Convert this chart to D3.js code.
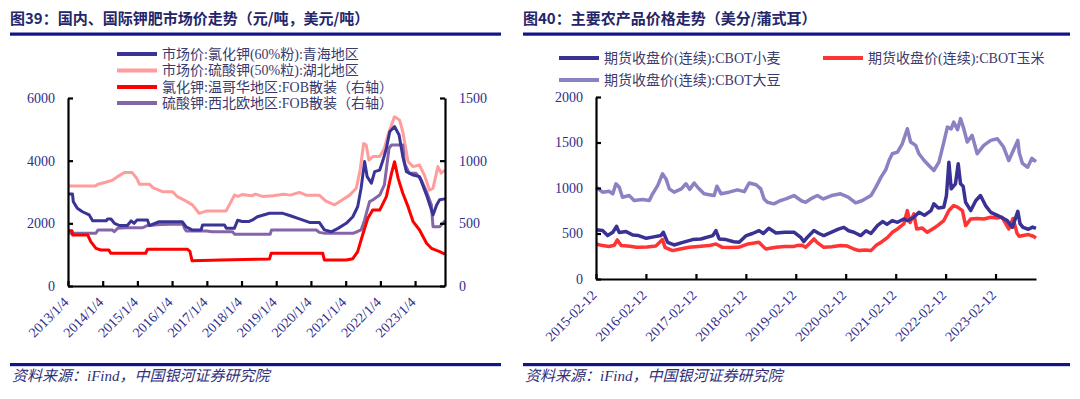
<!DOCTYPE html>
<html>
<head>
<meta charset="utf-8">
<script src="https://cdn.jsdelivr.net/npm/d3@7/dist/d3.min.js"></script>
<style>
  body { margin: 0; background: #fff; }
  svg text { font-family: "Liberation Serif", "Noto Sans CJK SC", serif; }
</style>
</head>
<body>
<svg id="chart" width="1080" height="399"></svg>
<script>
// ---- figure 39: potash prices ----
const leftTitle = "图39：国内、国际钾肥市场价走势（元/吨，美元/吨）";
const leftTickDates = ["2013-01-04", "2014-01-04", "2015-01-04", "2016-01-04", "2017-01-04", "2018-01-04",
  "2019-01-04", "2020-01-04", "2021-01-04", "2022-01-04", "2023-01-04"];
const leftTickLabels = ["2013/1/4", "2014/1/4", "2015/1/4", "2016/1/4", "2017/1/4", "2018/1/4",
  "2019/1/4", "2020/1/4", "2021/1/4", "2022/1/4", "2023/1/4"];
const leftYTicks = [0, 2000, 4000, 6000];
const rightYTicks = [0, 500, 1000, 1500];
const leftNames = ["市场价:氯化钾(60%粉):青海地区", "市场价:硫酸钾(50%粒):湖北地区",
  "氯化钾:温哥华地区:FOB散装（右轴）", "硫酸钾:西北欧地区:FOB散装（右轴）"];

// 元/吨, left axis
const kclQinghai = [
  ["2013-01-04", 2940], ["2013-02-20", 2940], ["2013-03-01", 2690], ["2013-04-12", 2480], ["2013-06-05", 2370],
  ["2013-08-15", 2270], ["2013-09-20", 2080], ["2014-02-10", 2080], ["2014-02-25", 2140], ["2014-04-01", 2140],
  ["2014-05-08", 2000], ["2014-07-01", 1930], ["2014-09-20", 1930], ["2014-10-30", 2080], ["2014-12-01", 2000],
  ["2015-01-01", 2110], ["2015-04-20", 2110], ["2015-05-10", 1930], ["2015-08-20", 2050], ["2016-04-20", 2050],
  ["2016-05-30", 1890], ["2016-08-01", 1790], ["2016-11-05", 1790], ["2016-11-20", 1950], ["2017-07-08", 1950],
  ["2017-07-28", 1840], ["2017-10-20", 1840], ["2017-11-25", 2100], ["2018-01-10", 2060], ["2018-03-25", 2060],
  ["2018-04-30", 2110], ["2018-06-20", 2210], ["2018-10-25", 2320], ["2019-03-15", 2320], ["2019-05-25", 2250],
  ["2019-09-05", 2140], ["2019-12-20", 2030], ["2020-04-01", 2030], ["2020-05-25", 1790], ["2020-08-05", 1730],
  ["2020-10-15", 1840], ["2021-01-10", 2000], ["2021-03-20", 2210], ["2021-05-10", 2530], ["2021-06-15", 3120],
  ["2021-07-22", 3970], ["2021-08-18", 3490], ["2021-10-01", 3280], ["2021-11-05", 3650], ["2021-12-28", 3700],
  ["2022-02-01", 4020], ["2022-03-08", 4390], ["2022-04-12", 4920], ["2022-06-02", 5090], ["2022-07-20", 4820],
  ["2022-08-28", 4130], ["2022-10-05", 3650], ["2022-12-15", 3540], ["2023-02-20", 3490], ["2023-05-05", 2900],
  ["2023-07-12", 2270], ["2023-08-20", 2590], ["2023-09-20", 2750], ["2023-11-15", 2780]
];
const sopHubei = [
  ["2013-01-04", 3190], ["2013-10-20", 3190], ["2013-11-15", 3250], ["2014-02-05", 3310], ["2014-04-20", 3380],
  ["2014-06-10", 3490], ["2014-08-20", 3620], ["2014-11-10", 3620], ["2014-12-28", 3440], ["2015-01-25", 3250],
  ["2015-05-10", 3250], ["2015-06-15", 3140], ["2015-09-25", 3010], ["2016-01-10", 3010], ["2016-03-01", 2850],
  ["2016-05-30", 2710], ["2016-08-05", 2590], ["2016-10-15", 2320], ["2016-12-28", 2390], ["2017-07-25", 2390],
  ["2017-10-22", 2900], ["2017-12-01", 2860], ["2018-01-10", 2920], ["2018-04-20", 2880], ["2018-06-01", 2930],
  ["2018-08-10", 2860], ["2018-12-01", 2880], ["2019-03-20", 2930], ["2019-06-01", 2900], ["2019-09-05", 2990],
  ["2019-11-15", 2900], ["2020-04-01", 2900], ["2020-06-10", 2710], ["2020-09-10", 2590], ["2020-10-30", 2690],
  ["2021-02-15", 2900], ["2021-04-25", 3120], ["2021-06-05", 3700], ["2021-07-12", 4550], ["2021-08-08", 4500],
  ["2021-09-05", 4020], ["2021-10-15", 4130], ["2021-12-28", 4130], ["2022-02-15", 4390], ["2022-03-25", 4820],
  ["2022-06-01", 5400], ["2022-07-25", 5300], ["2022-08-28", 4920], ["2022-10-22", 3970], ["2022-12-15", 3810],
  ["2023-02-20", 3860], ["2023-04-12", 3540], ["2023-06-05", 3060], ["2023-07-12", 3120], ["2023-09-01", 3810],
  ["2023-10-05", 3600], ["2023-11-15", 3700]
];
// 美元/吨, right axis
const kclVancouver = [
  ["2013-01-04", 440], ["2013-02-15", 440], ["2013-02-22", 407], ["2013-07-30", 407], ["2013-09-01", 354],
  ["2013-10-25", 300], ["2013-12-15", 287], ["2014-03-10", 287], ["2014-03-30", 261], ["2015-04-01", 261],
  ["2015-04-20", 293], ["2016-06-15", 293], ["2016-07-10", 277], ["2016-08-01", 202], ["2017-06-01", 208],
  ["2018-10-25", 215], ["2018-11-12", 261], ["2020-05-08", 261], ["2020-05-25", 207], ["2021-01-10", 207],
  ["2021-03-20", 218], ["2021-05-10", 274], ["2021-07-01", 407], ["2021-08-25", 540], ["2021-10-15", 606],
  ["2021-12-28", 606], ["2022-03-08", 713], ["2022-05-01", 899], ["2022-06-02", 992], ["2022-07-10", 859],
  ["2022-08-28", 740], ["2022-10-22", 633], ["2022-12-15", 513], ["2023-02-20", 447], ["2023-05-05", 341],
  ["2023-06-25", 301], ["2023-09-20", 274], ["2023-11-15", 255]
];
const sopNwEurope = [
  ["2013-01-04", 420], ["2013-10-25", 420], ["2013-11-15", 447], ["2014-04-15", 447], ["2014-05-05", 433],
  ["2014-06-10", 460], ["2014-09-01", 465], ["2015-03-01", 465], ["2015-04-10", 480], ["2015-09-01", 490],
  ["2016-04-25", 495], ["2016-05-15", 460], ["2016-06-01", 439], ["2017-01-01", 439], ["2017-03-01", 433],
  ["2017-10-01", 433], ["2017-10-25", 412], ["2018-11-01", 412], ["2018-11-15", 447], ["2020-03-01", 447],
  ["2020-04-01", 428], ["2020-06-01", 420], ["2021-03-20", 420], ["2021-05-10", 435], ["2021-06-15", 447],
  ["2021-07-22", 527], ["2021-09-12", 673], ["2021-10-15", 686], ["2021-12-28", 726], ["2022-02-15", 806],
  ["2022-04-05", 1099], ["2022-05-01", 1125], ["2022-08-28", 1125], ["2022-09-15", 979], ["2022-11-05", 899],
  ["2023-01-15", 899], ["2023-03-10", 846], ["2023-05-05", 752], ["2023-06-25", 646], ["2023-07-12", 473],
  ["2023-09-20", 473], ["2023-11-15", 520]
];

// ---- figure 40: CBOT futures, 美分/蒲式耳 ----
const rightTitle = "图40：主要农产品价格走势（美分/蒲式耳）";
const cbotTickDates = ["2015-02-12", "2016-02-12", "2017-02-12", "2018-02-12", "2019-02-12",
  "2020-02-12", "2021-02-12", "2022-02-12", "2023-02-12"];
const cbotYTicks = [0, 500, 1000, 1500, 2000];
const cbotNames = ["期货收盘价(连续):CBOT小麦", "期货收盘价(连续):CBOT玉米", "期货收盘价(连续):CBOT大豆"];

const cbotWheat = [
  ["2015-02-12", 540], ["2015-04-01", 532], ["2015-05-08", 477], ["2015-06-15", 514], ["2015-07-12", 579],
  ["2015-08-01", 510], ["2015-09-20", 521], ["2015-11-08", 484], ["2015-12-20", 477], ["2016-02-15", 447],
  ["2016-03-30", 460], ["2016-06-01", 477], ["2016-06-18", 514], ["2016-07-20", 403], ["2016-09-05", 374],
  ["2016-11-08", 403], ["2017-01-18", 433], ["2017-03-20", 440], ["2017-06-15", 477], ["2017-07-08", 532],
  ["2017-08-01", 440], ["2017-09-20", 433], ["2017-11-15", 410], ["2017-12-25", 403], ["2018-02-15", 477],
  ["2018-04-01", 500], ["2018-05-20", 532], ["2018-06-20", 500], ["2018-07-30", 557], ["2018-09-20", 506],
  ["2018-11-25", 514], ["2019-01-30", 514], ["2019-03-20", 458], ["2019-04-12", 410], ["2019-05-08", 460],
  ["2019-06-25", 532], ["2019-08-01", 500], ["2019-09-05", 477], ["2019-11-01", 514], ["2019-12-25", 550],
  ["2020-01-30", 568], ["2020-03-05", 530], ["2020-04-12", 514], ["2020-06-01", 477], ["2020-07-10", 530],
  ["2020-08-15", 500], ["2020-10-01", 587], ["2020-11-08", 631], ["2020-12-10", 600], ["2021-01-18", 642],
  ["2021-02-25", 623], ["2021-04-12", 660], ["2021-05-10", 640], ["2021-06-25", 678], ["2021-08-01", 733],
  ["2021-09-10", 700], ["2021-10-28", 752], ["2021-11-18", 826], ["2021-12-20", 780], ["2022-01-30", 789],
  ["2022-02-18", 917], ["2022-03-08", 1284], ["2022-03-25", 991], ["2022-04-25", 1046], ["2022-05-15", 1266],
  ["2022-06-01", 1046], ["2022-06-20", 1020], ["2022-07-08", 843], ["2022-08-15", 752], ["2022-09-20", 860],
  ["2022-10-25", 917], ["2022-12-01", 807], ["2023-01-08", 733], ["2023-02-25", 700], ["2023-03-25", 678],
  ["2023-05-08", 642], ["2023-06-15", 567], ["2023-07-25", 744], ["2023-08-10", 609], ["2023-09-01", 567],
  ["2023-10-10", 547], ["2023-11-10", 570], ["2023-12-05", 555]
];
const cbotCorn = [
  ["2015-02-12", 385], ["2015-04-01", 367], ["2015-05-18", 358], ["2015-06-25", 370], ["2015-07-18", 429],
  ["2015-08-15", 367], ["2015-10-20", 360], ["2015-12-05", 348], ["2016-02-20", 352], ["2016-04-25", 362],
  ["2016-06-12", 433], ["2016-07-01", 348], ["2016-08-25", 312], ["2016-10-20", 330], ["2016-12-25", 348],
  ["2017-03-01", 358], ["2017-05-18", 367], ["2017-07-08", 385], ["2017-08-25", 348], ["2017-10-20", 345],
  ["2017-12-20", 348], ["2018-03-01", 385], ["2018-05-18", 403], ["2018-07-08", 330], ["2018-09-20", 348],
  ["2018-11-25", 358], ["2019-01-30", 358], ["2019-02-20", 367], ["2019-03-30", 370], ["2019-04-25", 348],
  ["2019-05-20", 385], ["2019-06-25", 440], ["2019-07-20", 400], ["2019-09-05", 348], ["2019-11-01", 355],
  ["2020-01-05", 367], ["2020-02-25", 362], ["2020-04-12", 330], ["2020-05-20", 312], ["2020-07-01", 318],
  ["2020-08-15", 312], ["2020-09-20", 367], ["2020-10-25", 400], ["2020-12-15", 458], ["2021-01-18", 513],
  ["2021-02-25", 550], ["2021-04-12", 605], ["2021-05-08", 752], ["2021-05-28", 620], ["2021-06-25", 715],
  ["2021-07-15", 550], ["2021-08-25", 560], ["2021-10-01", 513], ["2021-11-20", 560], ["2021-12-15", 587],
  ["2022-01-30", 642], ["2022-03-08", 752], ["2022-04-12", 807], ["2022-05-10", 790], ["2022-06-15", 752],
  ["2022-07-08", 587], ["2022-08-15", 660], ["2022-10-01", 665], ["2022-11-18", 660], ["2023-01-08", 678],
  ["2023-02-20", 670], ["2023-04-01", 678], ["2023-05-20", 550], ["2023-06-20", 665], ["2023-07-20", 500],
  ["2023-08-05", 469], ["2023-10-10", 488], ["2023-11-15", 470], ["2023-12-05", 450]
];
const cbotSoybean = [
  ["2015-02-12", 1009], ["2015-04-01", 954], ["2015-05-18", 965], ["2015-06-15", 936], ["2015-07-08", 1046],
  ["2015-08-01", 1009], ["2015-08-25", 898], ["2015-10-12", 917], ["2015-11-18", 862], ["2016-01-18", 873],
  ["2016-03-08", 862], ["2016-04-01", 936], ["2016-05-08", 1027], ["2016-06-12", 1156], ["2016-07-08", 1100],
  ["2016-08-01", 991], ["2016-09-05", 954], ["2016-10-28", 991], ["2016-12-01", 1046], ["2016-12-28", 985],
  ["2017-01-30", 1055], ["2017-03-01", 1000], ["2017-04-12", 936], ["2017-05-20", 926], ["2017-06-25", 917],
  ["2017-07-15", 1020], ["2017-08-15", 936], ["2017-10-12", 954], ["2017-12-12", 980], ["2018-02-01", 960],
  ["2018-03-08", 1055], ["2018-04-28", 1036], ["2018-06-01", 991], ["2018-06-25", 880], ["2018-07-20", 843],
  ["2018-09-05", 826], ["2018-10-20", 860], ["2018-12-01", 880], ["2019-01-30", 917], ["2019-03-25", 860],
  ["2019-04-25", 843], ["2019-06-01", 880], ["2019-07-20", 917], ["2019-09-01", 880], ["2019-11-01", 917],
  ["2020-01-05", 936], ["2020-03-01", 900], ["2020-04-25", 836], ["2020-06-10", 860], ["2020-08-15", 917],
  ["2020-09-20", 1009], ["2020-10-28", 1119], ["2020-12-01", 1200], ["2020-12-25", 1302], ["2021-01-18", 1376],
  ["2021-02-25", 1394], ["2021-04-01", 1486], ["2021-05-08", 1651], ["2021-06-01", 1505], ["2021-07-08", 1468],
  ["2021-08-01", 1376], ["2021-09-08", 1302], ["2021-10-25", 1229], ["2021-11-18", 1192], ["2021-12-25", 1284],
  ["2022-01-30", 1504], ["2022-02-25", 1669], ["2022-03-25", 1650], ["2022-04-12", 1724], ["2022-05-10", 1640],
  ["2022-06-01", 1762], ["2022-06-25", 1651], ["2022-07-20", 1505], ["2022-08-25", 1578], ["2022-10-01", 1376],
  ["2022-11-18", 1468], ["2023-01-08", 1523], ["2023-02-25", 1541], ["2023-04-12", 1450], ["2023-05-20", 1302],
  ["2023-06-25", 1423], ["2023-07-25", 1523], ["2023-08-05", 1385], ["2023-08-28", 1270], ["2023-10-05", 1228],
  ["2023-11-05", 1326], ["2023-12-05", 1290]
];

const sourceText = "资料来源：iFind，中国银河证券研究院";

const parse = d3.timeParse("%Y-%m-%d");
const svg = d3.select("#chart");
svg.append("rect").attr("width", 1080).attr("height", 399).attr("fill", "#fff");

const navy = "#14148a";
const labelColor = "#2e2e8c";

function frame(x0, x1, title) {
  svg.append("text").attr("x", x0).attr("y", 24)
    .style("font-family", '"Noto Sans CJK SC", sans-serif')
    .style("font-weight", "bold").style("font-size", "15px")
    .attr("fill", "#25256a").text(title);
  svg.append("rect").attr("x", x0).attr("y", 32.5).attr("width", x1 - x0).attr("height", 3.2).attr("fill", navy);
  svg.append("rect").attr("x", x0).attr("y", 363).attr("width", x1 - x0).attr("height", 3.2).attr("fill", navy);
  svg.append("text").attr("x", x0 + 2).attr("y", 381)
    .style("font-style", "italic").style("font-size", "15px")
    .attr("fill", "#30307a").text(sourceText);
}

function styleAxis(g) {
  g.select(".domain").attr("stroke", "#000").attr("stroke-width", 2.2);
  g.selectAll(".tick line").attr("stroke", "#000").attr("stroke-width", 2.2);
  g.selectAll(".tick text").attr("fill", labelColor).style("font-size", "14px")
    .style("font-family", '"Liberation Serif", serif');
}

function rotateLabels(g) {
  g.selectAll(".tick text")
    .attr("x", 0).attr("y", 0).attr("dy", "0.2em")
    .attr("transform", "translate(-1,15) rotate(-45)")
    .style("text-anchor", "end");
}

function legendItem(x, y, color, label) {
  svg.append("line").attr("x1", x).attr("x2", x + 40).attr("y1", y).attr("y2", y)
    .attr("stroke", color).attr("stroke-width", 4);
  svg.append("text").attr("x", x + 45).attr("y", y).attr("dy", "0.35em")
    .style("font-size", "14px").attr("fill", "#3a3a6e").text(label);
}

function drawSeries(data, x, y, color, width) {
  svg.append("path").datum(data)
    .attr("fill", "none").attr("stroke", color).attr("stroke-width", width)
    .attr("stroke-linejoin", "round")
    .attr("d", d3.line().x(d => x(parse(d[0]))).y(d => y(d[1])));
}

// ---------- left panel ----------
frame(10, 501, leftTitle);
{
  const x = d3.scaleTime().domain([parse("2013-01-04"), parse("2023-11-15")]).range([68, 445]);
  const y = d3.scaleLinear().domain([0, 6000]).range([286, 98]);
  const y2 = d3.scaleLinear().domain([0, 1500]).range([286, 98]);

  drawSeries(sopHubei, x, y, "#ff9c9c", 3);
  drawSeries(sopNwEurope, x, y2, "#8466a8", 3);
  drawSeries(kclQinghai, x, y, "#3a3496", 3);
  drawSeries(kclVancouver, x, y2, "#ff0000", 3);

  svg.append("g").attr("transform", "translate(68,0)")
    .call(d3.axisLeft(y).tickValues(leftYTicks).tickSize(-5).tickSizeOuter(0).tickPadding(13).tickFormat(d3.format("d")))
    .call(styleAxis);
  svg.append("g").attr("transform", "translate(445,0)")
    .call(d3.axisRight(y2).tickValues(rightYTicks).tickSize(-5).tickSizeOuter(0).tickPadding(14).tickFormat(d3.format("d")))
    .call(styleAxis);
  svg.append("g").attr("transform", "translate(0,286)")
    .call(d3.axisBottom(x).tickValues(leftTickDates.map(parse)).tickSize(-5).tickSizeOuter(0)
      .tickFormat((d, i) => leftTickLabels[i]))
    .call(styleAxis).call(rotateLabels);

  const colors = ["#3a3496", "#ff9c9c", "#ff0000", "#8466a8"];
  const rows = [54, 70.5, 87, 103];
  leftNames.forEach((n, i) => legendItem(117, rows[i], colors[i], n));
}

// ---------- right panel ----------
frame(523, 1070, rightTitle);
{
  const x = d3.scaleTime().domain([parse("2015-02-12"), parse("2023-12-05")]).range([596, 1036]);
  const y = d3.scaleLinear().domain([0, 2000]).range([279, 97]);

  drawSeries(cbotSoybean, x, y, "#8a82c2", 3.5);
  drawSeries(cbotCorn, x, y, "#ff3434", 3.5);
  drawSeries(cbotWheat, x, y, "#3a3194", 3.5);

  svg.append("g").attr("transform", "translate(596,0)")
    .call(d3.axisLeft(y).tickValues(cbotYTicks).tickSize(-5).tickSizeOuter(0).tickPadding(13).tickFormat(d3.format("d")))
    .call(styleAxis);
  svg.append("g").attr("transform", "translate(0,279)")
    .call(d3.axisBottom(x).tickValues(cbotTickDates.map(parse)).tickSize(-5).tickSizeOuter(0)
      .tickFormat((d, i) => cbotTickDates[i]))
    .call(styleAxis).call(rotateLabels);

  legendItem(559, 58, "#3a3194", cbotNames[0]);
  legendItem(823, 58, "#ff3434", cbotNames[1]);
  legendItem(559, 80, "#8a82c2", cbotNames[2]);
}
</script>
</body>
</html>
